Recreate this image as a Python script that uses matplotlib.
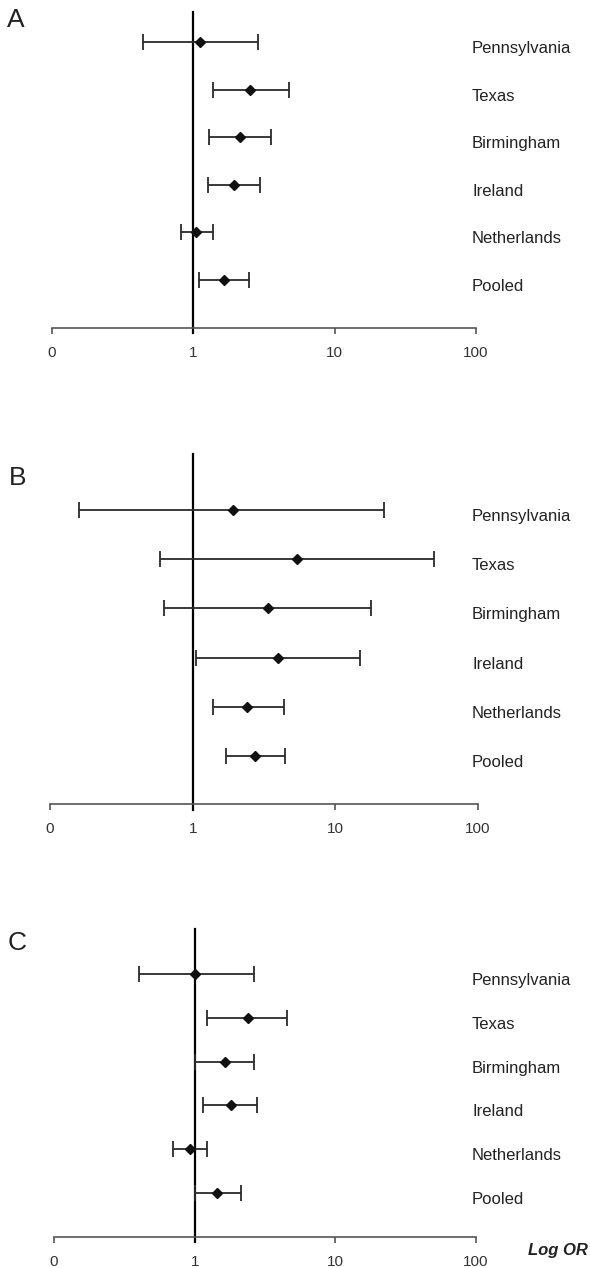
import matplotlib
matplotlib.use("Agg")
import matplotlib.pyplot as plt
import matplotlib.transforms as mtransforms

# study sites, top to bottom
sites = ["Pennsylvania", "Texas", "Birmingham", "Ireland", "Netherlands", "Pooled"]

# odds ratios with 95% CI
or_a = [1.11, 2.51, 2.13, 1.94, 1.05, 1.65]
lo_a = [0.44, 1.38, 1.29, 1.28, 0.82, 1.10]
hi_a = [2.86, 4.79, 3.54, 2.98, 1.38, 2.47]

or_b = [1.92, 5.41, 3.35, 3.96, 2.41, 2.72]
lo_b = [0.16, 0.59, 0.63, 1.06, 1.38, 1.70]
hi_b = [22.1, 49.1, 17.9, 14.8, 4.34, 4.45]

or_c = [1.01, 2.38, 1.64, 1.81, 0.93, 1.45]
lo_c = [0.40, 1.23, 1.00, 1.15, 0.70, 1.00]
hi_c = [2.65, 4.52, 2.63, 2.76, 1.22, 2.12]

ticks = [0.1, 1, 10, 100]
tick_labels = ["0", "1", "10", "100"]
panels = ["A", "B", "C"]

W, H = 590, 1268
fig = plt.figure(figsize=(W / 100, H / 100), dpi=100)

font = ["Liberation Sans", "DejaVu Sans"]

# pixel layout: (left, right, top, bottom, first row, row step, letter x, letter y)
layout = [
    (52, 476, 12, 328, 42, 47.6, 16, 20),
    (50, 478, 454, 804, 510, 49.2, 18, 478),
    (54, 476, 929, 1237, 974, 43.8, 17, 943),
]
data = [(or_a, lo_a, hi_a), (or_b, lo_b, hi_b), (or_c, lo_c, hi_c)]

for k, (est, lo, hi) in enumerate(data):
    l, r, t, b, r0, step, lx, ly = layout[k]
    ax = fig.add_axes([l / W, 1 - b / H, (r - l) / W, (b - t) / H])
    ax.set_xscale("log")
    ax.set_xlim(0.1, 100)
    ax.set_ylim((b - r0) / step, -(r0 - t) / step)
    ax.patch.set_visible(False)

    y = list(range(len(sites)))
    xerr = [[e - a for e, a in zip(est, lo)], [c - e for e, c in zip(est, hi)]]
    ax.errorbar(est, y, xerr=xerr, fmt="D", color="#111111", ecolor="#2a2a2a",
                elinewidth=1.3, capsize=5.5, capthick=1.3, markersize=5, zorder=3)
    ax.axvline(1, ymin=-0.017, ymax=1, color="black", lw=1.6, clip_on=False, zorder=2)

    for s in ["top", "right", "left"]:
        ax.spines[s].set_visible(False)
    ax.spines["bottom"].set_color("#555555")
    ax.spines["bottom"].set_linewidth(1.2)
    ax.set_yticks([])
    ax.set_xticks(ticks)
    ax.set_xticklabels(tick_labels)
    ax.minorticks_off()
    ax.tick_params(axis="x", direction="out", length=4, width=1.2, color="#555555",
                   pad=9, labelsize=11, labelcolor="#333333")
    for lab in ax.get_xticklabels():
        lab.set_fontfamily(font)

    trans = mtransforms.blended_transform_factory(fig.transFigure, ax.transData)
    for i, name in enumerate(sites):
        ax.text(472 / W, i + 6.5 / step, name, transform=trans, ha="left", va="center",
                fontsize=12, family=font, color="#222222")

    fig.text(lx / W, 1 - ly / H, panels[k], ha="center", va="center",
             fontsize=19, family=font, color="#222222")

fig.text(558 / W, 1 - 1251 / H, "Log OR", ha="center", va="center", fontsize=12,
         fontweight="bold", fontstyle="italic", family=font, color="#222222")

fig.savefig("out.png", dpi=100)
